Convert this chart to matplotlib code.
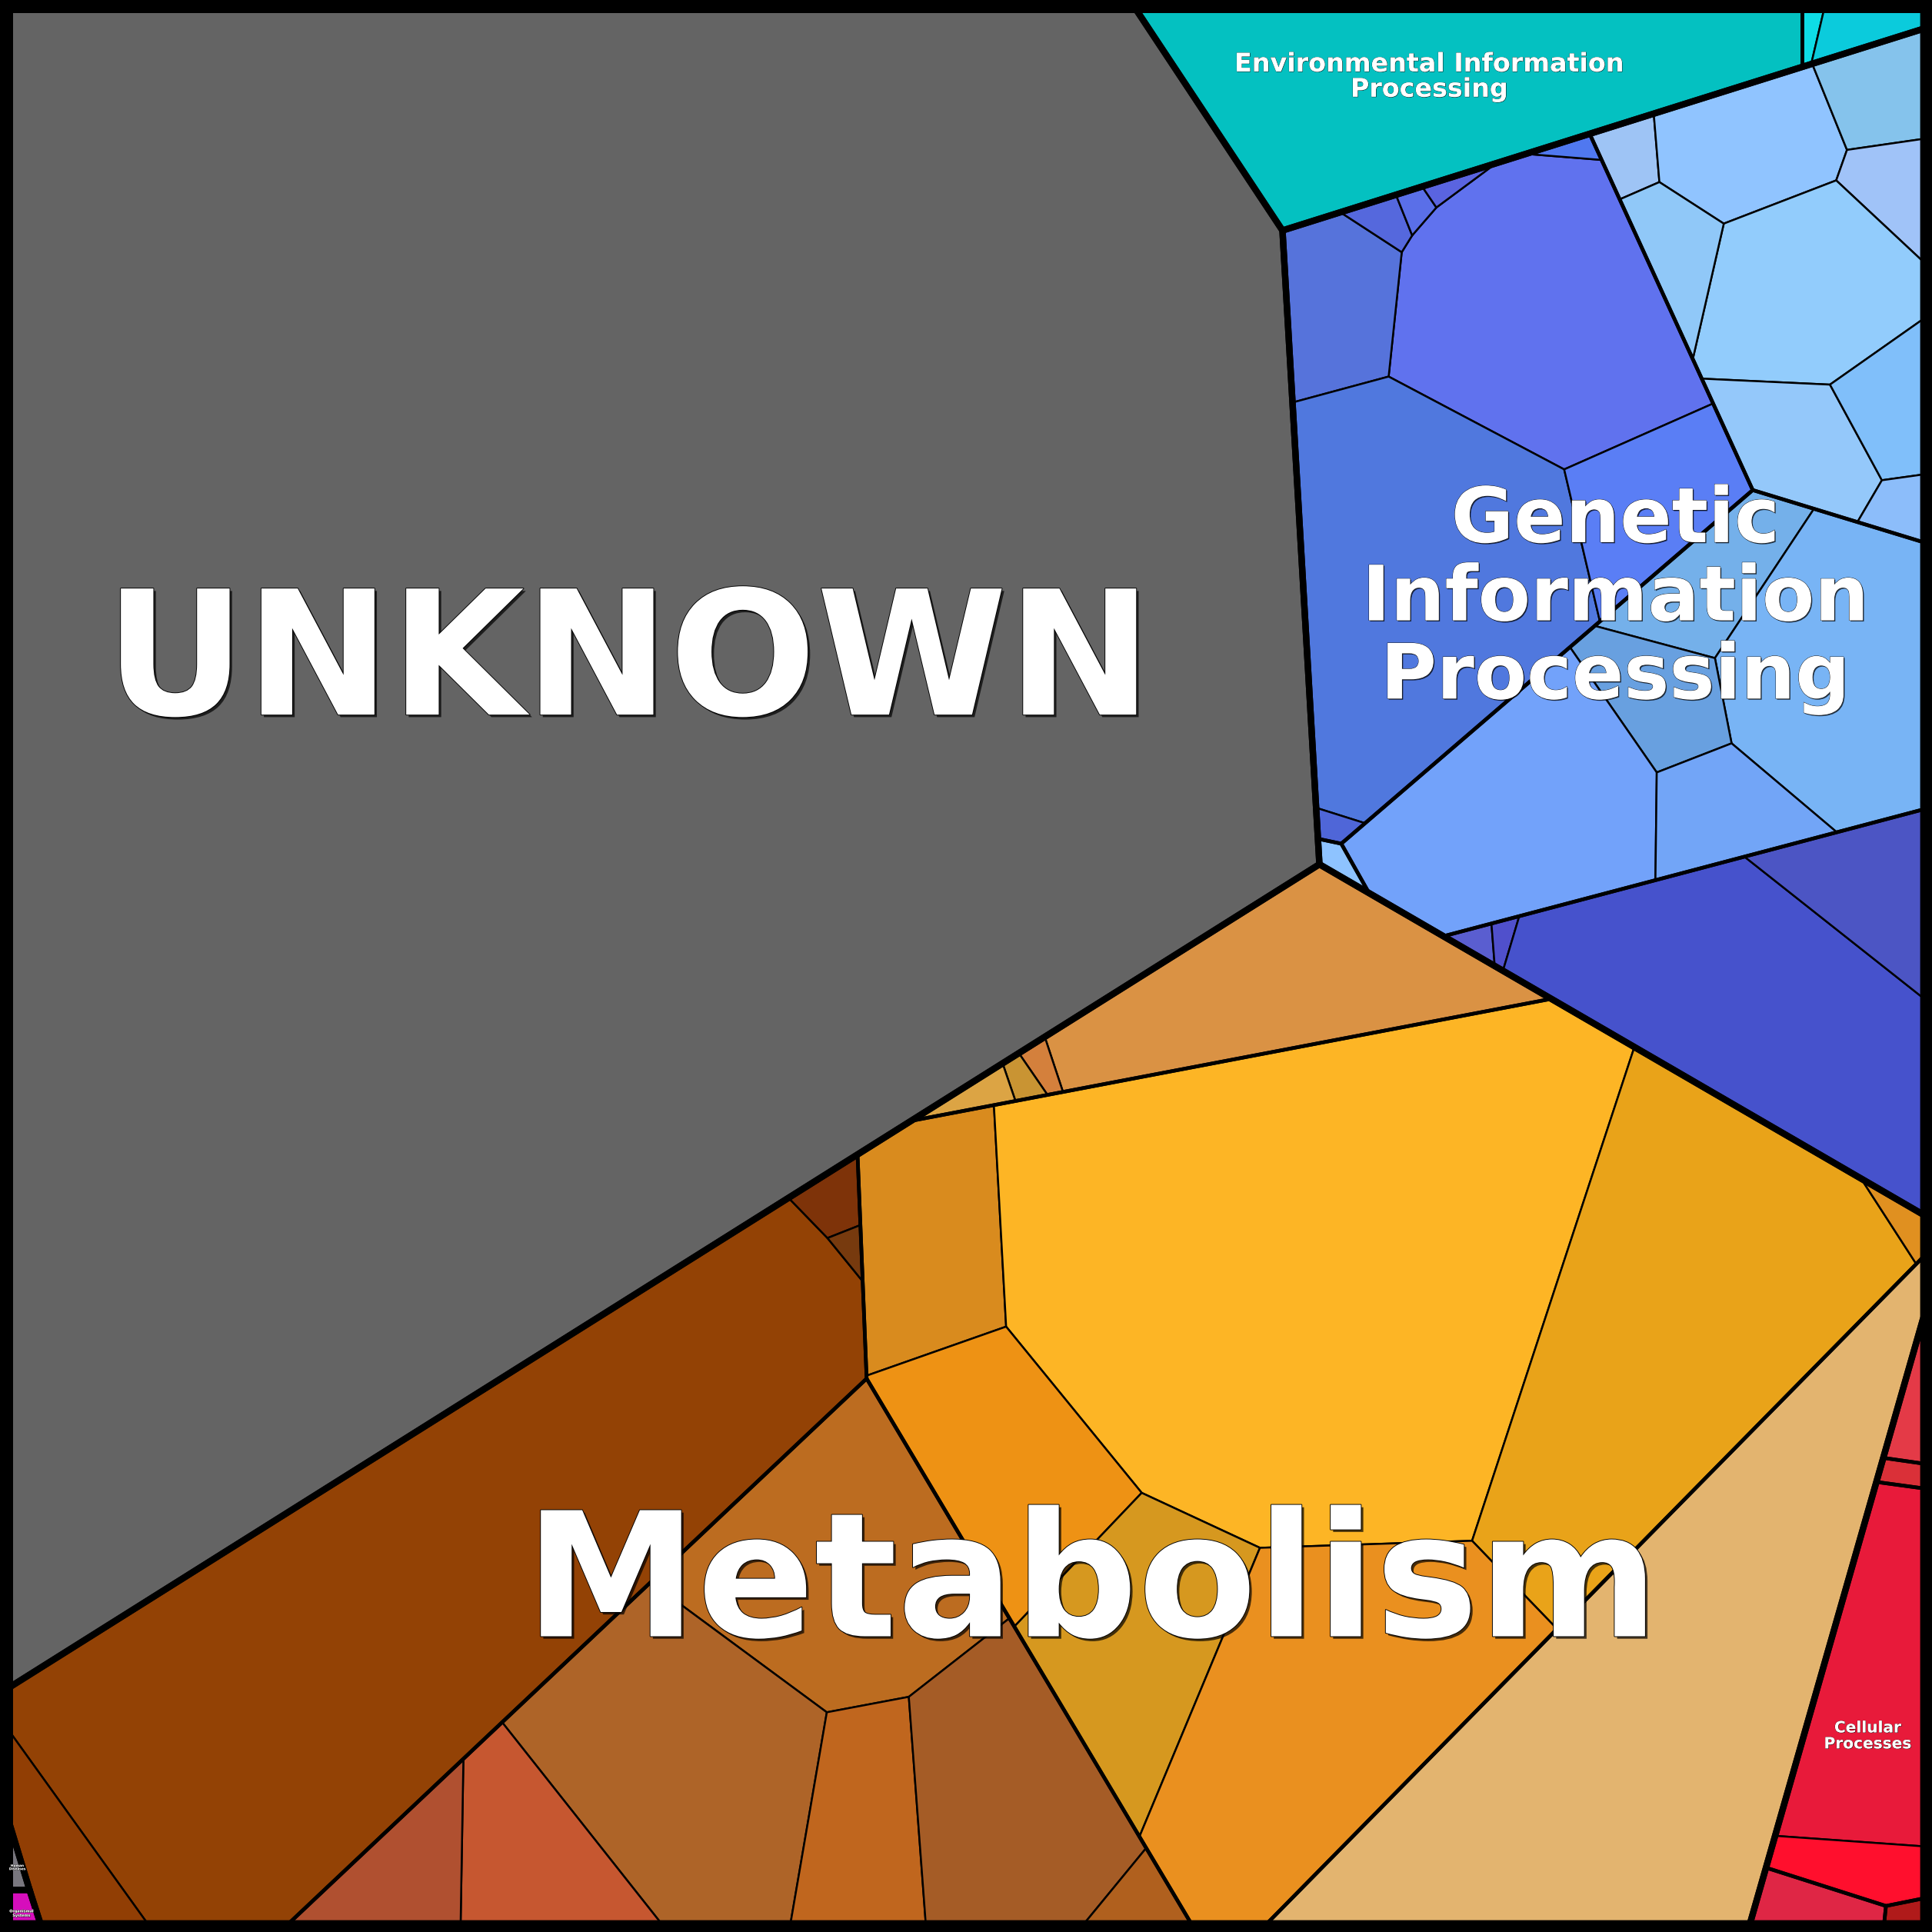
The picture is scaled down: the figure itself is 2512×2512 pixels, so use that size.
import numpy as np
import matplotlib
matplotlib.use('Agg')
import matplotlib.pyplot as plt
from matplotlib.patches import Polygon
import matplotlib.patheffects as pe

# top level categories
top_keys = ['U', 'E', 'G', 'M', 'C', 'H', 'O']
top_labels = ['UNKNOWN', 'Environmental Information\nProcessing',
              'Genetic\nInformation\nProcessing', 'Metabolism',
              'Cellular\nProcesses', 'Human\nDiseases', 'Organismal\nSystems']

# leaf cells (value = area share)
leaf_names = ['u', 'e1', 'e2', 'e3',
              'a2', 'a3', 'a4', 'a5', 'a6', 'a11', 'a7', 'a8', 'a9', 'a10',
              'b1', 'b2', 'b3', 'b4', 'b5', 'b6', 'b7', 'b8', 'b9',
              'c1', 'c2', 'c3', 'c4', 'c5',
              'd1', 'd2', 'd3', 'd4',
              'f1', 'f2', 'f3', 'f4', 'f5', 'f6',
              'h', 'o',
              't1', 't2', 't3', 't4',
              'y1', 'y2', 'y3', 'y4', 'y5', 'y6', 'y7',
              'm1',
              'br1', 'br2', 'br3', 'br4',
              'lb1', 'lb2', 'lb3', 'lb4', 'lb5', 'lb6', 'lb7']
leaf_top = ['U', 'E', 'E', 'E',
            'G', 'G', 'G', 'G', 'G', 'G', 'G', 'G', 'G', 'G',
            'G', 'G', 'G', 'G', 'G', 'G', 'G', 'G', 'G',
            'G', 'G', 'G', 'G', 'G',
            'G', 'G', 'G', 'G',
            'C', 'C', 'C', 'C', 'C', 'C',
            'H', 'O',
            'M', 'M', 'M', 'M',
            'M', 'M', 'M', 'M', 'M', 'M', 'M',
            'M',
            'M', 'M', 'M', 'M',
            'M', 'M', 'M', 'M', 'M', 'M', 'M']
leaf_group = ['U1', 'E1', 'E2', 'E2',
              'GA', 'GA', 'GA', 'GA', 'GA', 'GA', 'GA', 'GA', 'GA', 'GE',
              'GB', 'GB', 'GB', 'GB', 'GB', 'GB', 'GB', 'GB', 'GB',
              'GC', 'GC', 'GC', 'GC', 'GC',
              'GD', 'GD', 'GD', 'GD',
              'C1', 'C2', 'C3', 'C3', 'C4', 'C5',
              'H1', 'O1',
              'MT', 'MT', 'MT', 'MT',
              'MY', 'MY', 'MY', 'MY', 'MY', 'MY', 'MY',
              'ME',
              'MB', 'MB', 'MB', 'MB',
              'ML', 'ML', 'ML', 'ML', 'ML', 'ML', 'ML']
leaf_colors = ['#646464', '#04C1C1', '#0EDDE6', '#0BCBDC',
               '#6072EE', '#5673DB', '#5568DD', '#5A6FE8', '#5A64E0', '#5078F0',
               '#5078DE', '#5A7EF5', '#4F66D8', '#8EC3FF',
               '#9EC4F5', '#90C4FF', '#85C3EC', '#A0C3F8', '#92CCFC', '#90C8F8',
               '#94C8FA', '#80BFFA', '#8CBDFA',
               '#74B0EA', '#78B4F5', '#68A0E0', '#72A2FA', '#72A5F7',
               '#5A5ED0', '#5050CC', '#4652CC', '#4C55C4',
               '#E43A47', '#DA3038', '#E81A3A', '#FF0F2D', '#DF2645', '#B01A1A',
               '#79777F', '#D60EBC',
               '#DA9244', '#D4803C', '#C99433', '#DCA444',
               '#D98B1E', '#FDB525', '#E9A319', '#E09020', '#EE9214', '#D6981F', '#EA901F',
               '#E3B46F',
               '#934205', '#913E04', '#7E3309', '#773A0E',
               '#BC6C20', '#AE6428', '#C65730', '#B05030', '#C0661E', '#A55C26', '#B0601E']
leaf_values = [1065038, 57990, 551, 2468,
               44757, 11607, 1309, 690, 618, 626, 60853, 14260, 684, 736,
               2501, 13535, 6302, 4244, 22384, 5785, 10514, 6174, 1991,
               10640, 33058, 9010, 35276, 9592,
               684, 569, 51539, 11088,
               1920, 712, 23101, 5042, 3162, 531,
               420, 550,
               34650, 806, 740, 1375,
               21038, 165488, 81810, 1192, 26918, 27668, 60487,
               109156,
               168902, 7677, 2242, 618,
               41398, 45380, 15310, 9286, 15558, 31865, 2640]

# layout: generator (seed) position of every leaf cell, canvas units
seed_x = [469, 1170, 1475, 1509,
          1259, 1088, 1129, 1154, 1179, 1270, 1149, 1332, 1084, 1085,
          1324, 1421, 1525, 1537, 1466, 1361, 1460, 1530, 1542,
          1384, 1491, 1358, 1231, 1393,
          1199, 1225, 1422, 1505,
          1550, 1543, 1517, 1507, 1469, 1546,
          13, 19,
          1040, 847, 831, 793,
          755, 1063, 1352, 1547, 819, 924, 1075,
          1341,
          351, 49, 674, 689,
          676, 555, 445, 327, 712, 819, 925]
seed_y = [548, 70, 18, 26,
          258, 240, 177, 167, 150, 120, 466, 423, 672, 701,
          124, 116, 74, 157, 233, 209, 362, 324, 410,
          474, 545, 571, 659, 661,
          765, 763, 822, 717,
          1147, 1196, 1375, 1516, 1545, 1553,
          1513, 1549,
          803, 867, 878, 891,
          1046, 1029, 1124, 998, 1228, 1328, 1391,
          1376,
          1287, 1504, 974, 1012,
          1271, 1435, 1522, 1520, 1462, 1454, 1541]

# layout: seeds of the upper levels (others fall back to the value-weighted leaf mean)
top_seed = {'U': (469, 548), 'E': (1192, 69), 'G': (1327, 498), 'M': (900, 1234),
            'C': (1515, 1410), 'H': (13, 1503), 'O': (13, 1519)}
group_seed = {'E1': (1170, 70), 'E2': (1490, 70),
              'GA': (1200, 367), 'GB': (1460, 248), 'GC': (1365, 559),
              'GD': (1430, 805), 'GE': (1132, 690),
              'MB': (345, 1158), 'MY': (1085, 1128), 'ML': (593, 1421),
              'MT': (1024, 808), 'ME': (1341, 1380)}

SIZE = 1568
LO, HI = 8, 1561

# label placement: x, first baseline, line step, font size
label_layout = {'U': (510, 580, 0, 162), 'E': (1160, 58, 20.5, 24),
                'G': (1311, 440, 63.5, 71.5), 'M': (886, 1328, 0, 162),
                'C': (1516, 1406, 13, 14.5), 'H': (14, 1515, 2.6, 3.1),
                'O': (17.5, 1552, 3.5, 3.5)}


def clip(pts, labs, a, b, c, lab):
    out, ol = [], []
    n = len(pts)
    for k in range(n):
        px, py = pts[k]
        qx, qy = pts[(k + 1) % n]
        fp = a * px + b * py - c
        fq = a * qx + b * qy - c
        if fp <= 0:
            out.append((px, py))
            ol.append(labs[k])
            if fq > 0:
                t = fp / (fp - fq)
                out.append((px + t * (qx - px), py + t * (qy - py)))
                ol.append(lab)
        elif fq <= 0:
            t = fp / (fp - fq)
            out.append((px + t * (qx - px), py + t * (qy - py)))
            ol.append(labs[k])
    return out, ol


def area(pts):
    if len(pts) < 3:
        return 0.0
    p = np.array(pts)
    x, y = p[:, 0], p[:, 1]
    return abs((x * np.roll(y, -1) - np.roll(x, -1) * y).sum()) / 2


def power_cell(i, poly, S, w):
    pts = list(poly)
    labs = [-1] * len(pts)
    sx, sy = S[i]
    for j in range(len(S)):
        if j == i:
            continue
        tx, ty = S[j]
        a = 2 * (tx - sx)
        b = 2 * (ty - sy)
        c = tx * tx + ty * ty - sx * sx - sy * sy - w[j] + w[i]
        pts, labs = clip(pts, labs, a, b, c, j)
        if len(pts) < 3:
            return [], []
    return pts, labs


def solve(poly, S, vals, iters=800):
    n = len(S)
    if n == 1:
        return [poly]
    T = np.array(vals, float) / sum(vals) * area(poly)
    w = np.zeros(n)
    for it in range(iters):
        cells = [power_cell(i, poly, S, w) for i in range(n)]
        A = np.array([area(c[0]) for c in cells])
        if np.max(np.abs(A - T) / T) < 5e-4:
            break
        for i in range(n):
            pts, labs = cells[i]
            D = 0.0
            for k in range(len(pts)):
                j = labs[k]
                if j >= 0:
                    L = np.hypot(pts[(k + 1) % len(pts)][0] - pts[k][0],
                                 pts[(k + 1) % len(pts)][1] - pts[k][1])
                    d = np.hypot(S[j][0] - S[i][0], S[j][1] - S[i][1])
                    D += L / (2 * d)
            if D > 1e-9:
                w[i] += 0.5 * (T[i] - A[i]) / D
            else:
                w[i] += T[i]
        w -= w.mean()
    return [c[0] for c in cells]


vals = np.array(leaf_values, float)
sx = np.array(seed_x, float)
sy = np.array(seed_y, float)


def seed_of(mask):
    v = vals[mask]
    return (np.sum(sx[mask] * v) / v.sum(), np.sum(sy[mask] * v) / v.sum())


square = [(LO, LO), (HI, LO), (HI, HI), (LO, HI)]
tops = np.array(leaf_top)
grps = np.array(leaf_group)

top_seeds = [top_seed.get(k, seed_of(tops == k)) for k in top_keys]
top_vals = [vals[tops == k].sum() for k in top_keys]
top_polys = solve(square, top_seeds, top_vals)

group_polys = []
leaf_polys = {}
for k, tpoly in zip(top_keys, top_polys):
    gnames = list(dict.fromkeys(grps[tops == k]))
    g_seeds = [group_seed.get(g, seed_of(grps == g)) for g in gnames]
    g_vals = [vals[grps == g].sum() for g in gnames]
    gp = solve(tpoly, g_seeds, g_vals)
    for g, poly in zip(gnames, gp):
        group_polys.append(poly)
        idx = np.where(grps == g)[0]
        lp = solve(poly, [(sx[i], sy[i]) for i in idx], vals[idx])
        for i, p in zip(idx, lp):
            leaf_polys[i] = p

fig = plt.figure(figsize=(25.12, 25.12), dpi=100, facecolor='black')
ax = fig.add_axes([0, 0, 1, 1])
ax.set_xlim(0, SIZE)
ax.set_ylim(SIZE, 0)
ax.axis('off')

for i, p in leaf_polys.items():
    if len(p) >= 3:
        ax.add_patch(Polygon(p, closed=True, fc=leaf_colors[i], ec='black', lw=1.8, zorder=1))
for p in group_polys:
    if len(p) >= 3:
        ax.add_patch(Polygon(p, closed=True, fill=False, ec='black', lw=3.4, zorder=2))
for p in top_polys:
    if len(p) >= 3:
        ax.add_patch(Polygon(p, closed=True, fill=False, ec='black', lw=6, zorder=3))

for k, lab in zip(top_keys, top_labels):
    x, y0, step, fs = label_layout[k]
    sh = max(0.4, fs / 70)
    effects = [pe.SimplePatchShadow(offset=(sh, -sh), shadow_rgbFace='black', alpha=0.7),
               pe.Stroke(linewidth=max(0.3, fs / 120), foreground='black'), pe.Normal()]
    for n, line in enumerate(lab.split('\n')):
        ax.text(x, y0 + n * step, line, color='white', fontsize=fs, fontweight='bold',
                family='DejaVu Sans', ha='center', va='baseline', zorder=5,
                path_effects=effects)

fig.savefig('out.png', dpi=100, facecolor='black')
